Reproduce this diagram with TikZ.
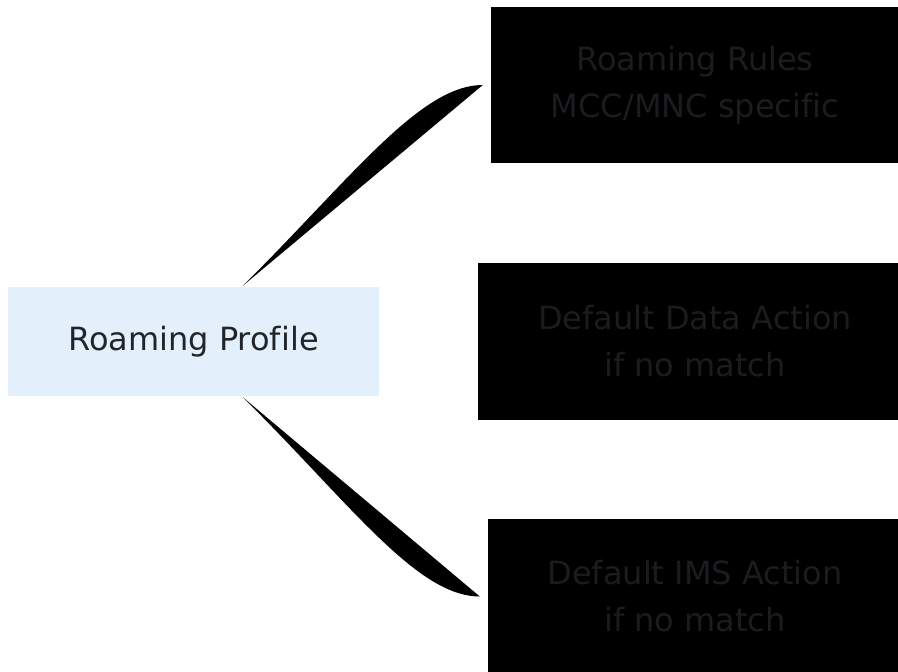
\documentclass[tikz,border=0pt]{standalone}
\usepackage{fontspec}
\setmainfont{DejaVu Sans}[Ligatures=NoCommon]
\usetikzlibrary{calc}
\definecolor{rootfill}{HTML}{E3F0FC}
\definecolor{txt}{HTML}{212529}
\definecolor{leaftxt}{HTML}{1B1C1F}
\begin{document}
\begin{tikzpicture}[x=1pt,y=-1pt,
  every node/.style={font=\fontsize{32}{47}\selectfont, text=txt, align=center, inner sep=0pt},
  rootbox/.style={fill=rootfill, minimum width=371pt, minimum height=109pt},
  leafbox/.style={fill=black, text=leaftxt},
  branch/.style={fill=black}
]
\useasboundingbox (0,0) rectangle (898,672);
\begin{scope}
\clip (0,0) rectangle (898,672);
\node[rootbox] (root) at (193.5,341.5) {Roaming Profile};
\node[leafbox, minimum width=408pt, minimum height=156pt] (rules) at (695,85) {Roaming Rules\\MCC/MNC specific};
\node[leafbox, minimum width=434pt, minimum height=157pt] (data) at (695,341.5) {Default Data Action\\if no match};
\node[leafbox, minimum width=414pt, minimum height=156pt] (ims) at (695,596.5) {Default IMS Action\\if no match};
\coordinate (t1) at ($(root.north west)+(235,-1)$);
\coordinate (e1) at ($(rules.west)+(-8,0)$);
\coordinate (t2) at ($(root.south west)+(235,1)$);
\coordinate (e2) at ($(ims.west)+(-8,0)$);
\fill[branch] (t1) .. controls ($(t1)+(107,-106)$) and ($(e1)+(-63,0)$) .. (e1) -- cycle;
\fill[branch] (t2) .. controls ($(t2)+(107,106)$) and ($(e2)+(-63,0)$) .. (e2) -- cycle;
\end{scope}
\end{tikzpicture}
\end{document}
